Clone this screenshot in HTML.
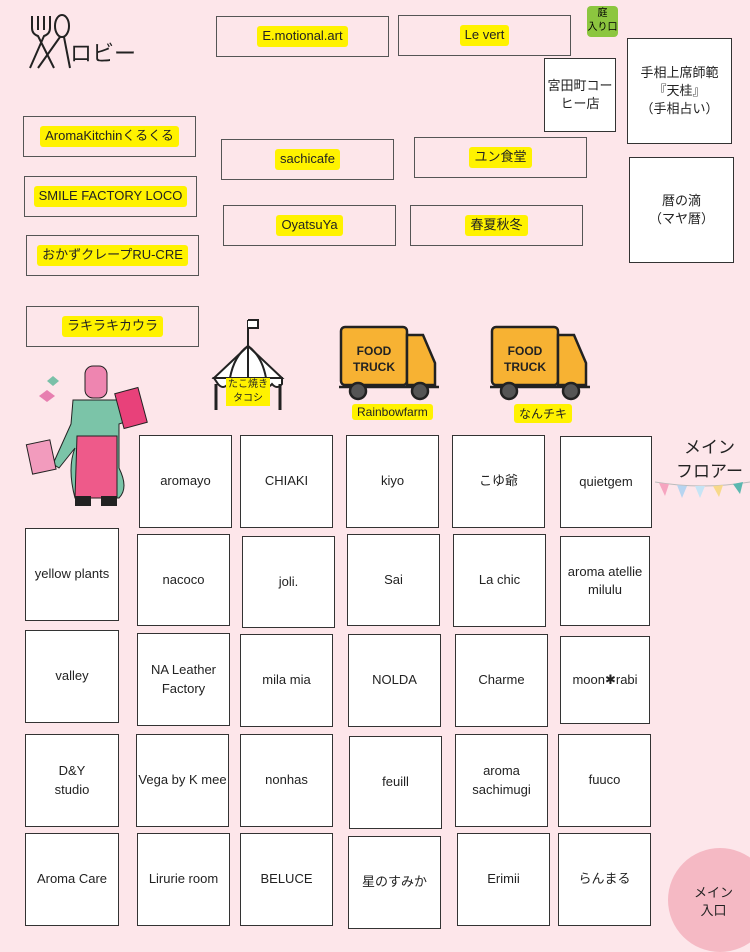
<!DOCTYPE html>
<html><head><meta charset="utf-8"><style>
*{margin:0;padding:0;box-sizing:border-box}
body{width:750px;height:938px;background:#fde6ea;position:relative;overflow:hidden;font-family:"Liberation Sans","Noto Sans CJK JP",sans-serif}
.b{position:absolute;background:#fff;border:1.5px solid #333;display:flex;align-items:center;justify-content:center;text-align:center;font-size:13px;color:#222;line-height:1.4}
.p{background:#fde6ea;border-color:#555}
.y{background:#fff200;padding:1px 5px;border-radius:3px;font-size:13px}
.t{position:absolute;color:#222}
</style></head><body>
<!-- lobby -->
<svg style="position:absolute;left:26px;top:12px" width="50" height="60"><g fill="none" stroke="#222" stroke-width="2"><path d="M6 4v12q0 6 6 8l16 32M12 4v14M18 4v14M24 4v12q0 6-6 8L4 56"/><ellipse cx="36" cy="14" rx="7" ry="11"/><path d="M34 25L12 56M38 25l6 31"/></g></svg>
<div class="t" style="left:70px;top:36px;font-size:22px">ロビー</div>

<div class="b p" style="left:216px;top:16px;width:173px;height:41px"><span class="y">E.motional.art</span></div>
<div class="b p" style="left:398px;top:15px;width:173px;height:41px"><span class="y">Le vert</span></div>
<div style="position:absolute;left:587px;top:6px;width:31px;height:31px;background:#8cc63f;border-radius:4px;font-size:10px;text-align:center;line-height:14px;padding-top:1px">庭<br>入り口</div>
<div class="b" style="left:544px;top:58px;width:72px;height:74px;font-size:13px">宮田町コー<br>ヒー店</div>
<div class="b" style="left:627px;top:38px;width:105px;height:106px;font-size:13px">手相上席師範<br>『天桂』<br>（手相占い）</div>
<div class="b" style="left:629px;top:157px;width:105px;height:106px;font-size:13px">暦の滴<br>（マヤ暦）</div>

<div class="b p" style="left:23px;top:116px;width:173px;height:41px"><span class="y">AromaKitchinくるくる</span></div>
<div class="b p" style="left:221px;top:139px;width:173px;height:41px"><span class="y">sachicafe</span></div>
<div class="b p" style="left:414px;top:137px;width:173px;height:41px"><span class="y">ユン食堂</span></div>
<div class="b p" style="left:24px;top:176px;width:173px;height:41px"><span class="y">SMILE FACTORY LOCO</span></div>
<div class="b p" style="left:223px;top:205px;width:173px;height:41px"><span class="y">OyatsuYa</span></div>
<div class="b p" style="left:410px;top:205px;width:173px;height:41px"><span class="y">春夏秋冬</span></div>
<div class="b p" style="left:26px;top:235px;width:173px;height:41px"><span class="y">おかずクレープRU-CRE</span></div>
<div class="b p" style="left:26px;top:306px;width:173px;height:41px"><span class="y">ラキラキカウラ</span></div>

<!-- tent -->
<svg style="position:absolute;left:210px;top:316px" width="78" height="96"><g stroke="#222" stroke-width="2" fill="#fff"><path d="M38 4v26" fill="none"/><path d="M38 4h10v8h-10" fill="#fff"/><path d="M38 30L4 62h68z"/><path d="M38 30q-14 10-18 32M38 30q14 10 18 32M38 30v32" fill="none"/><path d="M4 62h68v6q-5 6-10 0q-5 6-11 0q-5 6-11 0q-5 6-11 0q-5 6-11 0q-5 6-10 0z"/><path d="M6 68v26M70 68v26" fill="none" stroke-width="3"/></g></svg>
<div class="t" style="left:226px;top:378px;font-size:10px;background:#fff200;text-align:center;line-height:14px;padding:0 2px">たこ焼き<br>タコシ</div>

<!-- trucks -->
<svg style="position:absolute;left:338px;top:325px" width="102" height="78"><g stroke="#222" stroke-width="2.5"><rect x="3" y="2" width="66" height="58" rx="4" fill="#f7b233"/><path d="M69 10h16l12 28v22H69z" fill="#f7b233"/><path d="M1 62h100" /><circle cx="20" cy="66" r="8" fill="#555"/><circle cx="82" cy="66" r="8" fill="#555"/></g><text x="36" y="30" font-family="Liberation Sans" font-weight="bold" font-size="12" text-anchor="middle" fill="#222">FOOD</text><text x="36" y="46" font-family="Liberation Sans" font-weight="bold" font-size="12" text-anchor="middle" fill="#222">TRUCK</text></svg>
<div class="t y" style="left:352px;top:404px;font-size:12px">Rainbowfarm</div>
<svg style="position:absolute;left:489px;top:325px" width="102" height="78"><g stroke="#222" stroke-width="2.5"><rect x="3" y="2" width="66" height="58" rx="4" fill="#f7b233"/><path d="M69 10h16l12 28v22H69z" fill="#f7b233"/><path d="M1 62h100" /><circle cx="20" cy="66" r="8" fill="#555"/><circle cx="82" cy="66" r="8" fill="#555"/></g><text x="36" y="30" font-family="Liberation Sans" font-weight="bold" font-size="12" text-anchor="middle" fill="#222">FOOD</text><text x="36" y="46" font-family="Liberation Sans" font-weight="bold" font-size="12" text-anchor="middle" fill="#222">TRUCK</text></svg>
<div class="t y" style="left:514px;top:404px;font-size:12px">なんチキ</div>

<!-- person -->
<svg style="position:absolute;left:25px;top:364px" width="135" height="150"><path d="M28 12l6 5-6 5-6-5z" fill="#7ac0a8"/><path d="M22 26l8 6-8 6-8-6z" fill="#e77fb0"/><rect x="60" y="2" width="22" height="32" rx="8" fill="#ee85b0" stroke="#222"/><path d="M48 36h50l8 20-12 4v44q10 20 0 30H50q-8-30 0-50l-16 20-6-4 18-40z" fill="#7bc4a8" stroke="#222"/><path d="M52 72h40v62H50z" fill="#ee5a8a" stroke="#222"/><rect x="94" y="26" width="24" height="36" fill="#e8417a" stroke="#222" transform="rotate(-15 106 44)"/><rect x="4" y="78" width="24" height="30" fill="#f29bbd" stroke="#222" transform="rotate(-12 16 92)"/><rect x="50" y="132" width="16" height="10" fill="#222"/><rect x="76" y="132" width="16" height="10" fill="#222"/></svg>

<!-- main floor -->
<div class="t" style="left:676px;top:436px;font-size:17px;line-height:24px;text-align:center">メイン<br>フロアー</div>
<svg style="position:absolute;left:655px;top:478px" width="95" height="24"><path d="M0 4q47 8 95 0" stroke="#bbb" fill="none"/><path d="M4 5l10 1-4 12z" fill="#f6a5c0"/><path d="M22 7l10 1-5 12z" fill="#b7d4f0"/><path d="M40 8l10 0-5 12z" fill="#c6e4f5"/><path d="M58 8l10-1-4 12z" fill="#f8d98a"/><path d="M78 6l10-2-3 12z" fill="#5bb8b0"/></svg>

<!-- grid -->
<div class="b" style="left:139px;top:435px;width:93px;height:93px">aromayo</div>
<div class="b" style="left:240px;top:435px;width:93px;height:93px">CHIAKI</div>
<div class="b" style="left:346px;top:435px;width:93px;height:93px">kiyo</div>
<div class="b" style="left:452px;top:435px;width:93px;height:93px">こゆ爺</div>
<div class="b" style="left:560px;top:436px;width:92px;height:92px">quietgem</div>

<div class="b" style="left:25px;top:528px;width:94px;height:93px">yellow plants</div>
<div class="b" style="left:137px;top:534px;width:93px;height:92px">nacoco</div>
<div class="b" style="left:242px;top:536px;width:93px;height:92px">joli.</div>
<div class="b" style="left:347px;top:534px;width:93px;height:92px">Sai</div>
<div class="b" style="left:453px;top:534px;width:93px;height:93px">La chic</div>
<div class="b" style="left:560px;top:536px;width:90px;height:90px">aroma atellie<br>milulu</div>

<div class="b" style="left:25px;top:630px;width:94px;height:93px">valley</div>
<div class="b" style="left:137px;top:633px;width:93px;height:93px">NA Leather<br>Factory</div>
<div class="b" style="left:240px;top:634px;width:93px;height:93px">mila mia</div>
<div class="b" style="left:348px;top:634px;width:93px;height:93px">NOLDA</div>
<div class="b" style="left:455px;top:634px;width:93px;height:93px">Charme</div>
<div class="b" style="left:560px;top:636px;width:90px;height:88px">moon✱rabi</div>

<div class="b" style="left:25px;top:734px;width:94px;height:93px">D&amp;Y<br>studio</div>
<div class="b" style="left:136px;top:734px;width:93px;height:93px">Vega by K mee</div>
<div class="b" style="left:240px;top:734px;width:93px;height:93px">nonhas</div>
<div class="b" style="left:349px;top:736px;width:93px;height:93px">feuill</div>
<div class="b" style="left:455px;top:734px;width:93px;height:93px">aroma<br>sachimugi</div>
<div class="b" style="left:558px;top:734px;width:93px;height:93px">fuuco</div>

<div class="b" style="left:25px;top:833px;width:94px;height:93px">Aroma Care</div>
<div class="b" style="left:137px;top:833px;width:93px;height:93px">Lirurie room</div>
<div class="b" style="left:240px;top:833px;width:93px;height:93px">BELUCE</div>
<div class="b" style="left:348px;top:836px;width:93px;height:93px">星のすみか</div>
<div class="b" style="left:457px;top:833px;width:93px;height:93px">Erimii</div>
<div class="b" style="left:558px;top:833px;width:93px;height:93px">らんまる</div>

<div style="position:absolute;left:668px;top:848px;width:104px;height:104px;border-radius:50%;background:#f5b9c4"></div>
<div class="t" style="left:694px;top:884px;font-size:13px;text-align:center;line-height:18px">メイン<br>入口</div>
</body></html>
